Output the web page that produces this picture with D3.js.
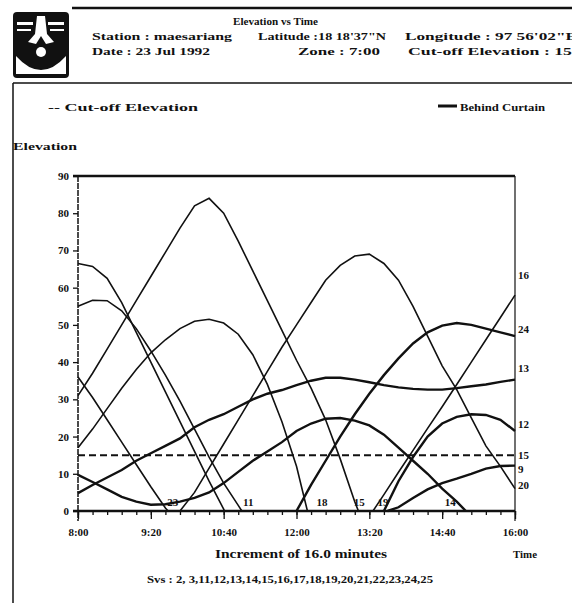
<!DOCTYPE html>
<html>
<head>
<meta charset="utf-8">
<script src="https://cdn.jsdelivr.net/npm/d3@7/dist/d3.min.js"></script>
<style>
  body { margin: 0; background: #fff; }
  svg text { font-family: "Liberation Serif", "DejaVu Serif", serif; font-weight: bold; fill: #111; }
</style>
</head>
<body>
<svg id="chart" width="572" height="603"></svg>
<script>
// elevation vs time, time in minutes after 8:00
var timeTicks = [0, 80, 160, 240, 320, 400, 480];
var timeLabels = ["8:00", "9:20", "10:40", "12:00", "13:20", "14:40", "16:00"];
var minorTicks = [0,16,32,48,64,80,96,112,128,144,160,176,192,208,224,240,256,272,288,304,320,336,352,368,384,400,416,432,448,464,480];
var elevTicks = [0, 10, 20, 30, 40, 50, 60, 70, 80, 90];
var cutoff = 15;

// each satellite: [minute, elevation]
var sv23 = [[0,36],[16,30.5],[32,24.5],[48,18.5],[64,12.5],[80,6.5],[96,0.8],[99,0]];
var sv21 = [[0,66.5],[16,65.7],[32,62.5],[48,56],[64,48],[80,40],[96,32],[112,24],[128,16],[144,8],[160,0.5],[161,0]];
var sv11 = [[0,55],[16,56.6],[32,56.5],[48,53.8],[64,49],[80,43],[96,36.5],[112,29.5],[128,22],[144,14.5],[160,7.5],[176,1.5],[180,0]];
var sv15 = [[0,31],[16,37],[32,43.5],[48,50],[64,56.5],[80,63],[96,69.5],[112,76],[128,82],[144,84],[160,80],[176,72.5],[192,64.5],[208,56.5],[224,48.5],[240,40.5],[256,33],[272,24.5],[288,14],[304,2.5],[308,0]];
var sv22 = [[0,17],[16,22],[32,27.5],[48,33],[64,38],[80,42.5],[96,46],[112,49],[128,51],[144,51.5],[160,50.5],[176,47.5],[192,42],[208,34],[224,24],[240,12],[252,0]];
var sv14 = [[0,9.7],[16,7.8],[32,5.8],[48,3.8],[64,2.5],[80,1.7],[96,1.8],[112,2.5],[128,3.5],[144,5],[160,7.5],[176,10.5],[192,13.5],[208,16],[224,18.5],[240,21.5],[256,23.5],[272,24.8],[288,25],[304,24.3],[320,23],[336,20.5],[352,17],[368,13.5],[384,10],[400,6],[416,2.5],[426,0]];
var sv13 = [[0,4.8],[16,7],[32,9],[48,11],[64,13.5],[80,15.5],[96,17.5],[112,19.5],[128,22.5],[144,24.5],[160,26],[176,28],[192,30],[208,31.5],[224,32.5],[240,33.8],[256,35],[272,35.8],[288,35.8],[304,35.3],[320,34.6],[336,33.8],[352,33.2],[368,32.8],[384,32.6],[400,32.6],[416,33],[432,33.5],[448,34],[464,34.7],[480,35.3]];
var sv20 = [[112,0],[128,5],[144,11.5],[160,18],[176,24.5],[192,31],[208,37.5],[224,44],[240,50],[256,56],[272,62],[288,66],[304,68.5],[320,69],[336,66.5],[352,62],[368,55],[384,47],[400,39],[416,32.6],[432,25],[448,17.5],[464,12],[480,6]];
var sv24 = [[240,0],[256,7],[272,13.5],[288,20],[304,26],[320,31.5],[336,36.5],[352,41],[368,45],[384,48],[400,49.8],[416,50.5],[432,50],[448,49],[464,48],[480,47]];
var sv16 = [[324,0],[336,4.4],[352,10.4],[368,16.3],[384,22.2],[400,28],[416,34],[432,40],[448,46],[464,52],[480,58]];
var sv12 = [[336,0],[352,8],[368,14.5],[384,20],[400,23.5],[416,25.3],[432,26],[448,25.8],[464,24.5],[480,21.5]];
var sv9 = [[340,0],[352,1],[368,3.5],[384,5.8],[400,7.5],[416,8.7],[432,10],[448,11.4],[464,12.1],[480,12.2]];

var thinSats = [sv23, sv21, sv11, sv15, sv20, sv16, sv22];
var thickSats = [sv14, sv13, sv24, sv12, sv9];

// labels where a satellite meets the horizon, and at the 16:00 edge
var bottomNames = ["23", "11", "18", "15", "19", "14"];
var bottomTimes = [104, 187, 268, 309, 335, 409];
var rightNames = ["16", "24", "13", "12", "15", "9", "20"];
var rightElev = [63.3, 48.8, 38.5, 23.4, 15.1, 11.3, 7.0];

var svg = d3.select("#chart");

var x = d3.scaleLinear().domain([0, 480]).range([78, 515]);
var y = d3.scaleLinear().domain([0, 90]).range([511, 176]);

// ---- header ----
var logo = svg.append("g");
logo.append("rect").attr("x", 13).attr("y", 12).attr("width", 56).attr("height", 66).attr("rx", 4).attr("fill", "#111");
logo.append("rect").attr("x", 17).attr("y", 22).attr("width", 16).attr("height", 3).attr("fill", "#fff");
logo.append("rect").attr("x", 48).attr("y", 22).attr("width", 16).attr("height", 3).attr("fill", "#fff");
logo.append("rect").attr("x", 17).attr("y", 29).attr("width", 14).attr("height", 2).attr("fill", "#fff");
logo.append("rect").attr("x", 50).attr("y", 29).attr("width", 14).attr("height", 2).attr("fill", "#fff");
logo.append("path").attr("d", "M37,16 L45,16 L47,34 L54,42 L46,44 L41,36 L36,44 L28,42 L35,34 Z").attr("fill", "#fff");
logo.append("path").attr("d", "M16,56 Q41,84 66,56 L66,74 L16,74 Z").attr("fill", "#fff");
logo.append("circle").attr("cx", 41).attr("cy", 52).attr("r", 5).attr("fill", "#fff");

svg.append("line").attr("x1", 72).attr("x2", 572).attr("y1", 8).attr("y2", 8)
  .attr("stroke", "#111").attr("stroke-width", 2.5);
svg.append("line").attr("x1", 13).attr("x2", 572).attr("y1", 83).attr("y2", 83)
  .attr("stroke", "#111").attr("stroke-width", 1.5);
svg.append("line").attr("x1", 13).attr("x2", 13).attr("y1", 83).attr("y2", 603)
  .attr("stroke", "#111").attr("stroke-width", 1.5);

function txt(s, px, py, size, len) {
  var t = svg.append("text").attr("x", px).attr("y", py).style("font-size", size + "px").text(s);
  if (len) t.attr("textLength", len).attr("lengthAdjust", "spacingAndGlyphs");
  return t;
}
txt("Elevation vs Time", 233, 25, 11, 85);
txt("Station : maesariang", 92, 40, 11, 140);
txt("Latitude :18 18'37\"N", 258, 40, 11, 128);
txt("Longitude : 97 56'02\"E", 405, 40, 11, 172);
txt("Date : 23 Jul 1992", 92, 55, 11, 118);
txt("Zone :  7:00", 298, 55, 11, 82);
txt("Cut-off Elevation : 15", 408, 55, 11, 164);

// legend
txt("-- Cut-off Elevation", 48, 111, 11, 150);
svg.append("line").attr("x1", 438).attr("x2", 457).attr("y1", 106).attr("y2", 106)
  .attr("stroke", "#111").attr("stroke-width", 3);
txt("Behind Curtain", 460, 111, 11, 85);
txt("Elevation", 13, 150, 11, 64);

// ---- axes ----
var gx = svg.append("g").attr("transform", "translate(0," + y(0) + ")");
gx.call(d3.axisBottom(x).tickValues(minorTicks).tickSize(4).tickFormat(""));
var gxMajor = svg.append("g").attr("transform", "translate(0," + y(0) + ")")
  .call(d3.axisBottom(x).tickValues(timeTicks).tickSize(8).tickPadding(9)
    .tickFormat(function(d, i) { return timeLabels[i]; }));
gxMajor.selectAll("text").style("font-size", "11px").attr("fill", "#111");
svg.selectAll(".domain").remove();

var gy = svg.append("g").attr("transform", "translate(" + x(0) + ",0)")
  .call(d3.axisLeft(y).tickValues(elevTicks).tickSize(5).tickPadding(4));
gy.select(".domain").remove();
gy.selectAll("text").style("font-size", "11px").attr("fill", "#111");
svg.selectAll(".tick line").attr("stroke", "#111").attr("stroke-width", 1.3);

// frame
svg.append("line").attr("x1", x(0)).attr("x2", x(0)).attr("y1", y(90)).attr("y2", y(0) + 10)
  .attr("stroke", "#111").attr("stroke-width", 1.5).attr("stroke-dasharray", "6,1");
svg.append("line").attr("x1", x(480)).attr("x2", x(480)).attr("y1", y(90)).attr("y2", y(0) + 10)
  .attr("stroke", "#111").attr("stroke-width", 1.2);
svg.append("line").attr("x1", x(0) - 5).attr("x2", x(480)).attr("y1", y(90)).attr("y2", y(90))
  .attr("stroke", "#111").attr("stroke-width", 2.5);
svg.append("line").attr("x1", x(0) - 5).attr("x2", x(480)).attr("y1", y(0)).attr("y2", y(0))
  .attr("stroke", "#111").attr("stroke-width", 2.5);

// cut-off line
svg.append("line").attr("x1", x(0)).attr("x2", x(480)).attr("y1", y(cutoff)).attr("y2", y(cutoff))
  .attr("stroke", "#111").attr("stroke-width", 2).attr("stroke-dasharray", "7,4");

// ---- satellite tracks ----
var line = d3.line()
  .x(function(d) { return x(d[0]); })
  .y(function(d) { return y(d[1]); });

svg.selectAll("path.thin").data(thinSats).enter().append("path")
  .attr("class", "thin").attr("d", line)
  .attr("fill", "none").attr("stroke", "#111").attr("stroke-width", 1.6);
svg.selectAll("path.thick").data(thickSats).enter().append("path")
  .attr("class", "thick").attr("d", line)
  .attr("fill", "none").attr("stroke", "#111").attr("stroke-width", 2.4);

// satellite numbers
svg.selectAll("text.bl").data(bottomNames).enter().append("text")
  .attr("class", "bl")
  .attr("x", function(d, i) { return x(bottomTimes[i]); })
  .attr("y", y(0) - 5)
  .attr("text-anchor", "middle")
  .style("font-size", "11px")
  .text(function(d) { return d; });
svg.selectAll("text.rl").data(rightNames).enter().append("text")
  .attr("class", "rl")
  .attr("x", x(480) + 3)
  .attr("y", function(d, i) { return y(rightElev[i]) + 4; })
  .style("font-size", "11px")
  .text(function(d) { return d; });

// footer
txt("Increment of 16.0 minutes", 215, 558, 12, 172);
txt("Time", 513, 558, 11, 24);
txt("Svs : 2, 3,11,12,13,14,15,16,17,18,19,20,21,22,23,24,25", 147, 583, 10, 286);
</script>
</body>
</html>
